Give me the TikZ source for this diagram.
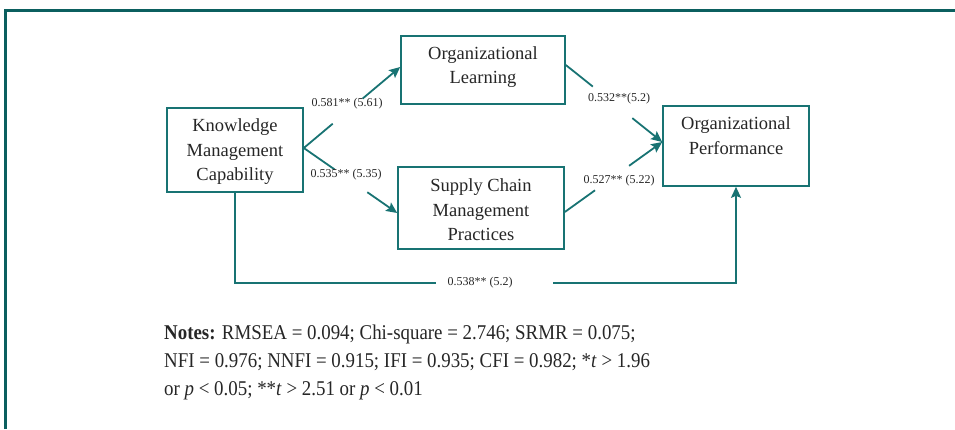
\documentclass[tikz,border=0pt]{standalone}
\usepackage{fontspec}
\setmainfont{Liberation Serif}
\newfontfamily\notesfont[FakeStretch=0.9]{Liberation Serif}
\usetikzlibrary{arrows.meta,calc}
\definecolor{teal1}{HTML}{187373}
\definecolor{frame1}{HTML}{0B5F5F}
\begin{document}
\begin{tikzpicture}[x=1pt,y=-1pt,
  box/.style={draw=teal1, line width=1.6pt, rectangle, inner sep=0pt},
  btxt/.style={font=\fontsize{18.5}{24.5}\selectfont, align=center, inner sep=0pt, text=black!85},
  lbl/.style={font=\fontsize{12}{14}\selectfont, inner sep=0pt, text=black!85},
  conn/.style={draw=teal1, line width=1.8pt},
  arr/.style={conn, -{Stealth[length=11pt,width=10pt,inset=2pt]}}]
\useasboundingbox (0,0) rectangle (955,429);
% frame
\draw[frame1, line width=3.5pt, line join=miter] (5.5,429) -- (5.5,10.5) -- (955,10.5);
% boxes
\node[box, minimum width=136pt, minimum height=84pt] (kmc) at (235,150) {};
\node[box, minimum width=164pt, minimum height=68pt] (ol) at (483,70) {};
\node[box, minimum width=166pt, minimum height=82pt] (scmp) at (481,208) {};
\node[box, minimum width=146pt, minimum height=80pt] (op) at (736,146) {};
% box texts
\node[btxt] (kmct) at (235,152) {Knowledge\\Management\\Capability};
\node[btxt] (olt) at (483,67) {Organizational\\Learning};
\node[btxt] (scmpt) at (481,210) {Supply Chain\\Management\\Practices};
\node[btxt] (opt) at (736,135.5) {Organizational\\Performance};
% connector ends
\coordinate (s1) at ([yshift=2pt]kmc.east);
\coordinate (t1) at ([yshift=3pt]ol.west);
\coordinate (t2) at ([yshift=-5pt]scmp.west);
\coordinate (s3) at ([yshift=5pt]ol.east);
\coordinate (s4) at ([yshift=-4pt]scmp.east);
\coordinate (t3) at ([yshift=4pt]op.west);
% KMC -> OL
\draw[conn] (s1) -- ($(s1)!0.30!(t1)$);
\draw[arr] ($(s1)!0.61!(t1)$) -- (t1);
% KMC -> SCMP
\draw[conn] (s1) -- ($(s1)!0.33!(t2)$);
\draw[arr] ($(s1)!0.68!(t2)$) -- (t2);
% OL -> OP
\draw[conn] (s3) -- ($(s3)!0.28!(t3)$);
\draw[arr] ($(s3)!0.69!(t3)$) -- (t3);
% SCMP -> OP
\draw[conn] (s4) -- ($(s4)!0.31!(t3)$);
\draw[arr] ($(s4)!0.66!(t3)$) -- (t3);
% KMC -> OP (bottom)
\coordinate (g1) at (436,283);
\coordinate (g2) at (553,283);
\draw[conn] (kmc.south) |- (g1);
\draw[arr] (g2) -| (op.south);
% labels
\node[lbl] (l1) at (347,104) {0.581** (5.61)};
\node[lbl] (l2) at (346,175) {0.535** (5.35)};
\node[lbl] (l3) at (619,99) {0.532**(5.2)};
\node[lbl] (l4) at (619,181) {0.527** (5.22)};
\node[lbl] (l5) at (480,283) {0.538** (5.2)};
% notes
\node[anchor=base west, font=\notesfont\fontsize{21}{28}\selectfont, align=left, inner sep=0pt, text=black!85] (notes) at (164,395)
  {\textbf{Notes:} RMSEA = 0.094; Chi-square = 2.746; SRMR = 0.075;\\
   NFI = 0.976; NNFI = 0.915; IFI = 0.935; CFI = 0.982; *\textit{t} > 1.96\\
   or \textit{p} < 0.05; **\textit{t} > 2.51 or \textit{p} < 0.01};
\end{tikzpicture}
\end{document}
